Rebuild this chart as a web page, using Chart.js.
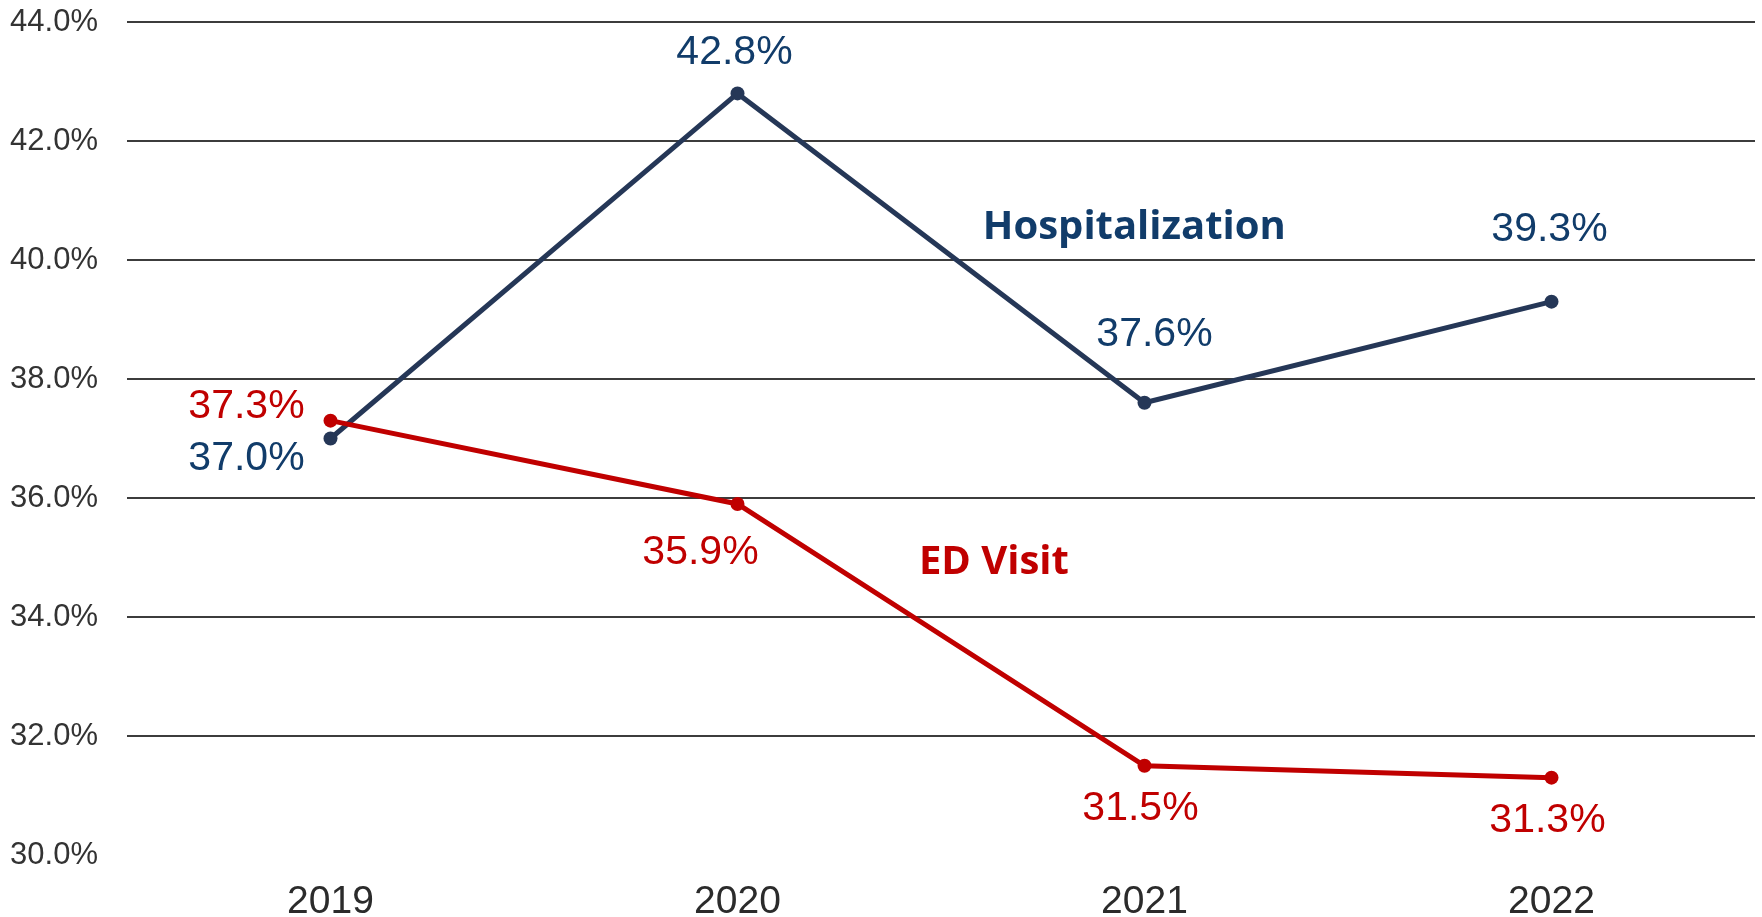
<!DOCTYPE html>
<html>
<head>
<meta charset="utf-8">
<script src="https://cdn.jsdelivr.net/npm/chart.js@4"></script>
<style>
  html, body { margin: 0; padding: 0; background: #fff; }
  #wrap { width: 1762px; height: 917px; }
</style>
</head>
<body>
<div id="wrap"><canvas id="chart"></canvas></div>
<script>
// chart data
const years = ["2019", "2020", "2021", "2022"];
const hospitalization = [37.0, 42.8, 37.6, 39.3];
const edVisit = [37.3, 35.9, 31.5, 31.3];
const yTicks = [30, 32, 34, 36, 38, 40, 42, 44];

const BLUE_LINE = "#253757";
const BLUE_TEXT = "#113c6a";
const RED = "#c00000";

// where each value label sits relative to its point (px)
const hospOffsets = [[-84, 20], [-3, -41], [10, -68], [-2, -72]];
const edOffsets = [[-84, -14], [-37, 49], [-4, 43], [-4, 43]];

// value labels + series names
const labelPlugin = {
  id: "valueLabels",
  afterDatasetsDraw(chart) {
    const ctx = chart.ctx;
    const x = chart.scales.x, y = chart.scales.y;
    ctx.save();
    ctx.textAlign = "center";
    ctx.textBaseline = "middle";
    ctx.font = "41px 'Liberation Sans', Arial, sans-serif";
    chart.data.datasets.forEach((ds, i) => {
      const meta = chart.getDatasetMeta(i);
      ctx.fillStyle = ds.labelColor;
      meta.data.forEach((pt, j) => {
        const off = ds.offsets[j];
        ctx.fillText(ds.data[j].toFixed(1) + "%", pt.x + off[0], pt.y + off[1]);
      });
    });
    // series names
    const step = x.getPixelForValue(1) - x.getPixelForValue(0);
    ctx.font = "bold 40px 'Open Sans', sans-serif";
    ctx.fillStyle = BLUE_TEXT;
    ctx.fillText("Hospitalization", x.getPixelForValue(1) + step * 0.975, y.getPixelForValue(40.55));
    ctx.fillStyle = RED;
    ctx.fillText("ED Visit", x.getPixelForValue(1) + step * 0.63, y.getPixelForValue(34.92));
    ctx.restore();
  }
};

new Chart(document.getElementById("chart"), {
  type: "line",
  data: {
    labels: years,
    datasets: [
      {
        label: "ED Visit",
        data: edVisit,
        borderColor: RED,
        backgroundColor: RED,
        borderWidth: 5,
        pointRadius: 7,
        pointBorderWidth: 0,
        labelColor: RED,
        offsets: edOffsets,
        order: 1
      },
      {
        label: "Hospitalization",
        data: hospitalization,
        borderColor: BLUE_LINE,
        backgroundColor: BLUE_LINE,
        borderWidth: 5,
        pointRadius: 7,
        pointBorderWidth: 0,
        labelColor: BLUE_TEXT,
        offsets: hospOffsets,
        order: 2
      }
    ]
  },
  options: {
    responsive: true,
    maintainAspectRatio: false,
    animation: false,
    layout: { padding: 0 },
    plugins: {
      legend: { display: false },
      tooltip: { enabled: false }
    },
    scales: {
      x: {
        offset: true,
        grid: { display: false, drawTicks: false },
        border: { display: false },
        ticks: {
          color: "#2b2b2b",
          padding: 24,
          font: { family: "'Liberation Sans', Arial, sans-serif", size: 39 }
        },
        afterFit(scale) { scale.height = 62; }
      },
      y: {
        min: 30,
        max: 44,
        afterBuildTicks(scale) { scale.ticks = yTicks.map(v => ({ value: v })); },
        grid: {
          drawTicks: false,
          color: ctx => ctx.tick && ctx.tick.value === 30 ? "rgba(0,0,0,0)" : "#3c3c3c",
          lineWidth: 2
        },
        border: { display: false },
        ticks: {
          color: "#333333",
          padding: 29,
          font: { family: "'Liberation Sans', Arial, sans-serif", size: 31 },
          callback: v => v.toFixed(1) + "%"
        },
        afterFit(scale) {
          scale.width = 127;
          scale.paddingTop = 22;
          scale.paddingBottom = 0;
        }
      }
    }
  },
  plugins: [labelPlugin]
});
</script>
</body>
</html>
